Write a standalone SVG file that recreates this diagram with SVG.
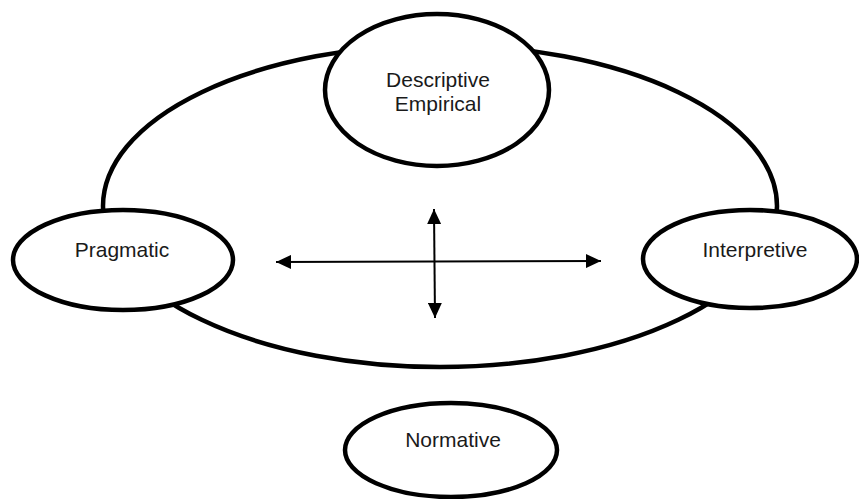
<svg xmlns="http://www.w3.org/2000/svg" width="859" height="499" viewBox="0 0 859 499">
<style>
.big{fill:none;stroke:#000;stroke-width:4.5}
.node{fill:#fff;stroke:#000;stroke-width:4.5}
.lbl{font-family:"Liberation Sans",Arial,sans-serif;font-size:21px;fill:#1a1a1a;text-anchor:middle}
.conn{stroke:#000;stroke-width:2;fill:none}
</style>
<defs>
<marker id="ah" viewBox="0 0 15 14" refX="15" refY="7" markerWidth="15" markerHeight="14" markerUnits="userSpaceOnUse" orient="auto-start-reverse">
<path d="M0,0 L15,7 L0,14 Z" fill="#000"/>
</marker>
</defs>
<g id="cycle"><ellipse class="big" cx="440" cy="206" rx="337" ry="161"/></g>
<g id="connectors">
<line class="conn" x1="276" y1="262" x2="601" y2="261" marker-start="url(#ah)" marker-end="url(#ah)"/>
<line class="conn" x1="434" y1="209" x2="435" y2="318" marker-start="url(#ah)" marker-end="url(#ah)"/>
</g>
<g id="descriptive">
<ellipse class="node" cx="437" cy="90" rx="112" ry="76"/>
<text class="lbl" x="438" y="87">Descriptive</text>
<text class="lbl" x="438" y="111">Empirical</text>
</g>
<g id="pragmatic">
<ellipse class="node" cx="123" cy="260" rx="110" ry="50"/>
<text class="lbl" x="122" y="257">Pragmatic</text>
</g>
<g id="interpretive">
<ellipse class="node" cx="750" cy="259" rx="107" ry="49"/>
<text class="lbl" x="755" y="257">Interpretive</text>
</g>
<g id="normative">
<ellipse class="node" cx="451" cy="450" rx="106" ry="47"/>
<text class="lbl" x="453" y="447">Normative</text>
</g>
</svg>
